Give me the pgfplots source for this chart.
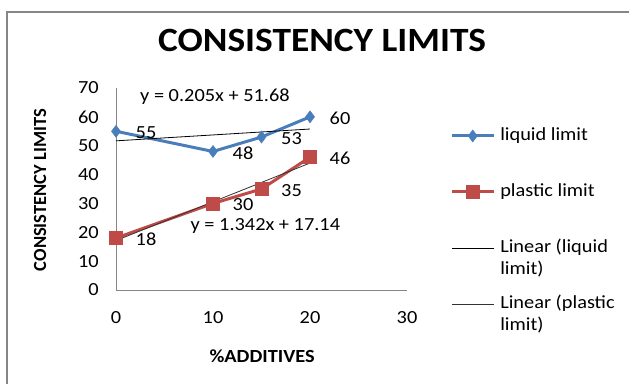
\documentclass[border=0pt]{standalone}
\usepackage{pgfplots}
\pgfplotsset{compat=1.18}
\usepackage{fontspec}
\setmainfont{Carlito}[FakeStretch=1.1]
\newfontfamily\uprightfont{Carlito}
\definecolor{llblue}{RGB}{74,126,187}
\definecolor{plred}{RGB}{190,75,72}
\definecolor{framegray}{RGB}{134,134,134}
% two-line legend text, first line on the baseline
\newcommand\lgtext[2]{\begin{tabular}[t]{@{}l@{}}#1\strut\\#2\strut\end{tabular}}
\begin{document}
\begin{tikzpicture}[x=1pt,y=1pt,font=\fontsize{18.5}{22}\selectfont]
\path[use as bounding box, clip] (0,0) rectangle (629,383);
\draw[framegray, line width=1.2pt] (7,371) rectangle (650,-20);
\begin{axis}[
  at={(116pt,93pt)}, anchor=origin,
  x=9.7pt, y=2.886pt,
  xmin=0, xmax=30, ymin=0, ymax=70,
  axis x line=bottom, axis y line=left,
  axis line style={-, draw=framegray, line width=0.8pt},
  major tick length=0pt,
  xtick={0,10,20,30}, ytick={0,10,...,70},
  xticklabel style={yshift=-17.5pt},
  yticklabel style={xshift=-13.7pt},
  /pgf/number format/assume math mode=true,
  clip=false,
  title={\fontsize{34}{40}\selectfont\bfseries CONSISTENCY LIMITS},
  title style={at={(0.708,1.203)}, anchor=center},
  xlabel={\bfseries\%ADDITIVES},
  xlabel style={at={(0.502,-0.327)}, anchor=center},
  ylabel={\uprightfont\bfseries CONSISTENCY LIMITS},
  ylabel style={at={(-0.261,0.495)}, anchor=center},
  legend style={at={(1.148,0.815)}, anchor=north west, draw=none, fill=none,
    inner sep=0pt, row sep=12pt, column sep=5pt,
    cells={anchor=base west},
    nodes={inner sep=0pt, text depth=, text height=}},
  legend image code/.code={\draw[mark repeat=2, mark phase=2, #1]
    plot coordinates {(0pt,5pt) (21pt,5pt) (42pt,5pt)};},
  every node near coord/.append style={anchor=center, xshift=30pt, yshift=-1.5pt, black},
]
\addplot[llblue, line width=3pt, mark=diamond*, mark size=6pt,
  mark options={solid, fill=llblue, draw=llblue, line width=0.5pt},
  nodes near coords]
  coordinates {(0,55) (10,48) (15,53) (20,60)};
\addlegendentry{\lgtext{liquid limit}{\mbox{}}}
\addplot[plred, line width=3pt, mark=square*, mark size=6.5pt,
  mark options={solid, fill=plred, draw=plred, line width=0.5pt},
  nodes near coords]
  coordinates {(0,18) (10,30) (15,35) (20,46)};
\addlegendentry{\lgtext{plastic limit}{\mbox{}}}
% least-squares trend lines
\addplot[black, line width=0.8pt] coordinates {(0,51.68) (20,55.78)};
\addlegendentry{\lgtext{Linear (liquid}{limit)}}
\addplot[black!80, line width=0.8pt] coordinates {(0,17.14) (20,43.98)};
\addlegendentry{\lgtext{Linear (plastic}{limit)}}
\node at (axis cs:10.2,66.9) {y = 0.205x + 51.68};
\node at (axis cs:15.4,22.2) {y = 1.342x + 17.14};
\end{axis}
\end{tikzpicture}
\end{document}
